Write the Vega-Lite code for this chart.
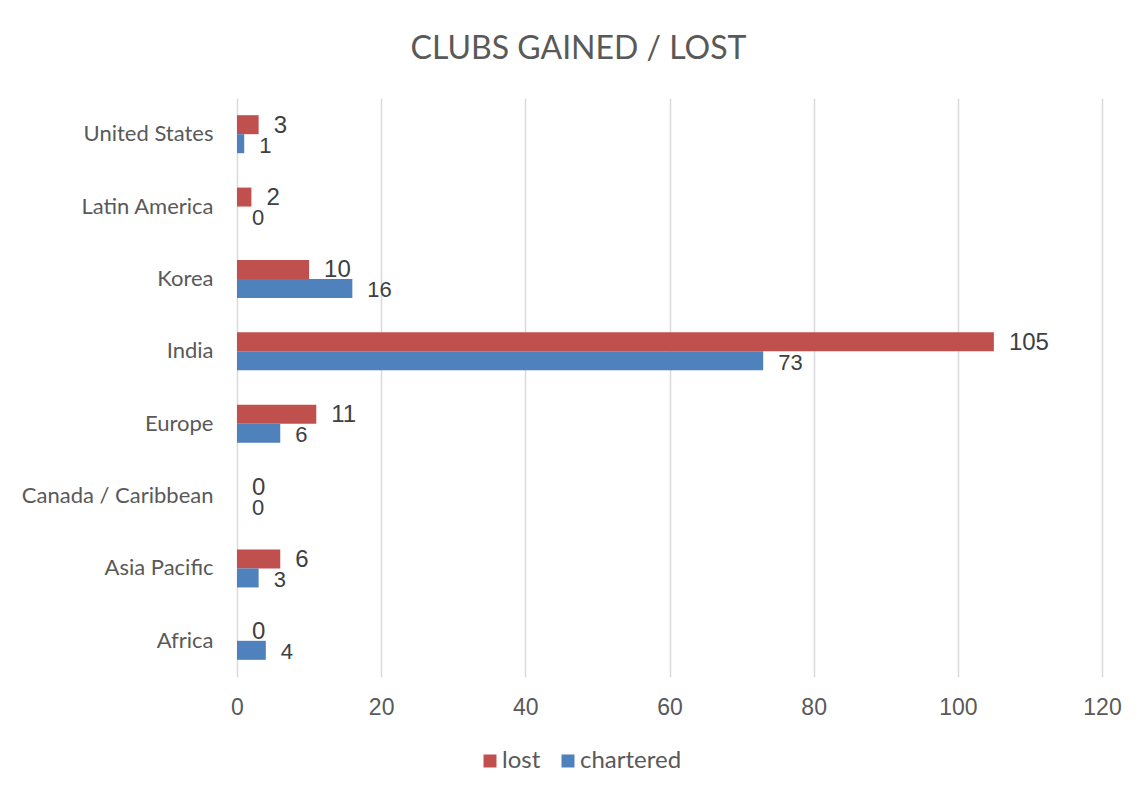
{
  "$schema": "https://vega.github.io/schema/vega-lite/v6.json",
  "width": 865,
  "height": 579,
  "autosize": {"type": "none"},
  "padding": {"left": 237, "top": 98, "right": 41, "bottom": 120},
  "background": "white",
  "title": {"text": "CLUBS GAINED / LOST", "font": "Lato", "fontSize": 32, "fontWeight": "normal", "color": "#595959", "anchor": "middle", "dx": -91, "offset": 32},
  "data": {"values": [
    {"region": "United States", "series": "lost", "value": 3},
    {"region": "United States", "series": "chartered", "value": 1},
    {"region": "Latin America", "series": "lost", "value": 2},
    {"region": "Latin America", "series": "chartered", "value": 0},
    {"region": "Korea", "series": "lost", "value": 10},
    {"region": "Korea", "series": "chartered", "value": 16},
    {"region": "India", "series": "lost", "value": 105},
    {"region": "India", "series": "chartered", "value": 73},
    {"region": "Europe", "series": "lost", "value": 11},
    {"region": "Europe", "series": "chartered", "value": 6},
    {"region": "Canada / Caribbean", "series": "lost", "value": 0},
    {"region": "Canada / Caribbean", "series": "chartered", "value": 0},
    {"region": "Asia Pacific", "series": "lost", "value": 6},
    {"region": "Asia Pacific", "series": "chartered", "value": 3},
    {"region": "Africa", "series": "lost", "value": 0},
    {"region": "Africa", "series": "chartered", "value": 4}
  ]},
  "encoding": {
    "y": {"field": "region", "type": "nominal",
      "sort": ["United States", "Latin America", "Korea", "India", "Europe", "Canada / Caribbean", "Asia Pacific", "Africa"],
      "scale": {"paddingInner": 0.475, "paddingOuter": 0.2375},
      "axis": {"title": null, "domain": false, "ticks": false, "labelFont": "Lato", "labelFontSize": 22, "labelColor": "#595959", "labelPadding": 24, "labelLimit": 400, "grid": false}},
    "yOffset": {"field": "series", "type": "nominal", "sort": ["lost", "chartered"], "scale": {"paddingInner": 0, "paddingOuter": 0}},
    "x": {"field": "value", "type": "quantitative", "scale": {"domain": [0, 120], "nice": false},
      "axis": {"title": null, "values": [0, 20, 40, 60, 80, 100, 120], "grid": true, "gridColor": "#d9d9d9", "gridWidth": 1.5, "domain": false, "ticks": false, "labelFlush": false, "labelFont": "Liberation Sans", "labelFontSize": 23, "labelColor": "#595959", "labelPadding": 19}}
  },
  "layer": [
    {"mark": {"type": "bar"},
     "encoding": {"color": {"field": "series", "type": "nominal",
       "scale": {"domain": ["lost", "chartered"], "range": ["#C0504D", "#4F81BD"]},
       "legend": {"title": null, "orient": "none", "legendX": 241, "legendY": 651, "direction": "horizontal", "symbolType": "square", "symbolSize": 169, "symbolStrokeWidth": 0, "labelFont": "Lato", "labelFontSize": 24, "labelColor": "#595959", "labelOffset": 0, "columnPadding": 15, "padding": 0}}}},
    {"transform": [{"filter": "datum.series === 'lost'"}],
     "mark": {"type": "text", "align": "left", "baseline": "middle", "dx": 15, "dy": 1, "font": "Liberation Sans", "fontSize": 24, "color": "#404040"},
     "encoding": {"text": {"field": "value", "type": "quantitative"}}},
    {"transform": [{"filter": "datum.series === 'chartered'"}],
     "mark": {"type": "text", "align": "left", "baseline": "middle", "dx": 15, "dy": 2, "font": "Liberation Sans", "fontSize": 22, "color": "#404040"},
     "encoding": {"text": {"field": "value", "type": "quantitative"}}}
  ],
  "config": {"view": {"stroke": null}}
}
